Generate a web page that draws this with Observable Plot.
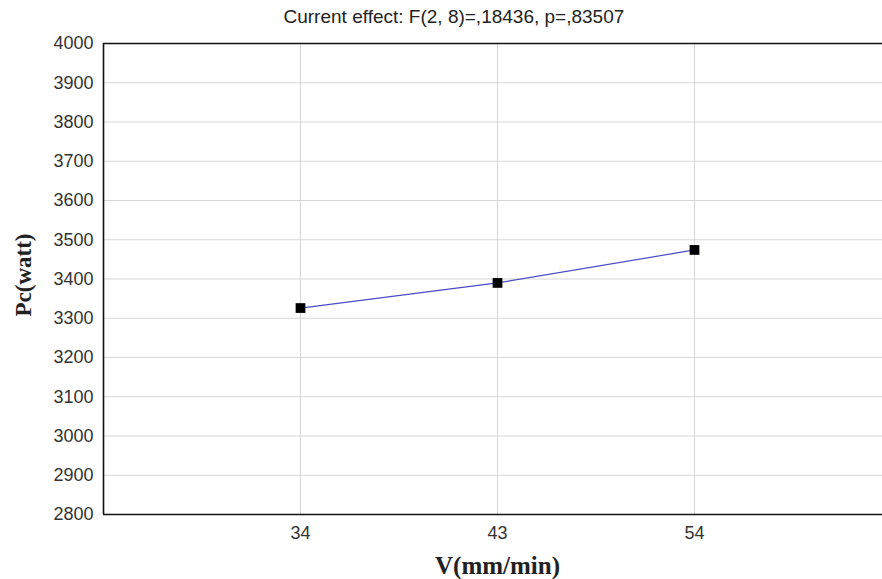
<!DOCTYPE html>
<html>
<head>
<meta charset="utf-8">
<script src="https://cdn.jsdelivr.net/npm/d3@7"></script>
<script src="https://cdn.jsdelivr.net/npm/@observablehq/plot@0.6"></script>
<style>
  html, body { margin: 0; padding: 0; background: #fff; overflow: hidden; }
  #chart { width: 882px; height: 579px; overflow: hidden; }
</style>
</head>
<body>
<div id="chart"></div>
<script>
const categories = ["34", "43", "54"];
const pcValues = [3326, 3390, 3474];
const yTicks = [2800, 2900, 3000, 3100, 3200, 3300, 3400, 3500, 3600, 3700, 3800, 3900, 4000];
const titleText = "Current effect: F(2, 8)=,18436, p=,83507";
const xLabel = "V(mm/min)";
const yLabel = "Pc(watt)";

// categories are placed at positions 1..n on a continuous axis spanning 0..n+1 (as in the original software)
const xPos = categories.map((c, i) => i + 1);
const xDomain = [0, categories.length + 1];
const data = categories.map((c, i) => ({pos: xPos[i], pc: pcValues[i]}));
const yMin = yTicks[0], yMax = yTicks[yTicks.length - 1];

const chart = Plot.plot({
  width: 882,
  height: 579,
  marginLeft: 103,
  marginRight: 0,
  marginTop: 43,
  marginBottom: 65,
  style: {fontFamily: "'Liberation Sans', Arial, sans-serif", background: "#fff"},
  x: {domain: xDomain, range: [103, 891]},
  y: {domain: [yMin, yMax]},
  marks: [
    Plot.gridY(yTicks.slice(1, -1), {stroke: "#d6d6d6", strokeOpacity: 1, strokeWidth: 1}),
    Plot.gridX(xPos, {stroke: "#d6d6d6", strokeOpacity: 1, strokeWidth: 1}),
    Plot.ruleY([yMin, yMax], {stroke: "#111", strokeWidth: 1.6}),
    Plot.ruleX([xDomain[0]], {stroke: "#111", strokeWidth: 1.6}),
    Plot.axisY(yTicks, {tickSize: 0, tickPadding: 10, fontSize: 18, fill: "#333", label: null, tickFormat: d3.format("d")}),
    Plot.axisX(xPos, {tickSize: 0, tickPadding: 12, fontSize: 18, fill: "#333", label: null, tickFormat: (d) => categories[d - 1]}),
    Plot.line(data, {x: "pos", y: "pc", stroke: "#4b4bc6", strokeWidth: 1.2}),
    Plot.dot(data, {x: "pos", y: "pc", symbol: "square", r: 5.5, fill: "#000", stroke: "none"}),
    Plot.text([titleText], {frameAnchor: "top-left", textAnchor: "start", lineAnchor: "middle", dx: 180, dy: -27, fontSize: 19, fill: "#222", text: d => d}),
    Plot.text([xLabel], {frameAnchor: "bottom-left", textAnchor: "middle", lineAnchor: "middle", dx: 394, dy: 51, fontSize: 25, fontWeight: "bold", fontFamily: "'Liberation Serif', 'Times New Roman', serif", fill: "#222", text: d => d}),
    Plot.text([yLabel], {frameAnchor: "left", textAnchor: "middle", lineAnchor: "middle", dx: -80, dy: -4, rotate: -90, fontSize: 23, fontWeight: "bold", fontFamily: "'Liberation Serif', 'Times New Roman', serif", fill: "#222", text: d => d})
  ]
});
document.getElementById("chart").appendChild(chart);
</script>
</body>
</html>
